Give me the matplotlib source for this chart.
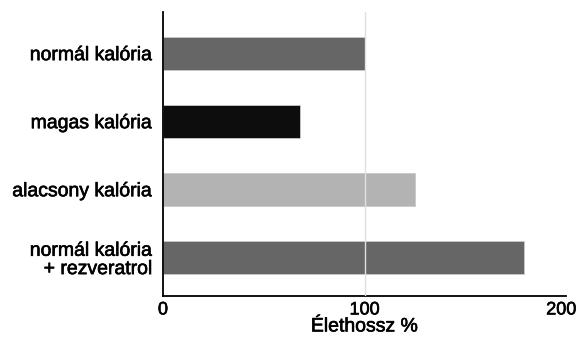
import matplotlib
matplotlib.use("Agg")
from matplotlib import pyplot as plt
from matplotlib import patheffects as pe
from matplotlib.transforms import ScaledTranslation

categories = ['normál kalória', 'magas kalória', 'alacsony kalória', 'normál kalória\n+ rezveratrol']
lifespan = [100, 68, 125, 179]
bar_colors = ['#666666', '#0d0d0d', '#b3b3b3', '#666666']
x_ticks = [0, 100, 200]

plt.rcParams['font.family'] = ['Liberation Sans', 'DejaVu Sans']
heavy = [pe.withStroke(linewidth=0.45, foreground='black')]

fig = plt.figure(figsize=(5.77, 3.37), dpi=100)
ax = fig.add_axes([0.2825, 0.122, 0.699, 0.842])

ypos = list(range(len(categories)))
ax.barh(ypos, lifespan, height=0.48, color=bar_colors, edgecolor='#c8c8c8', linewidth=0.6, zorder=2)

# single gridline at 100, drawn over the bars
ax.axvline(100, color='#e0e0e0', linewidth=1.0, zorder=3)

ax.set_xlim(0, 200)
ax.set_ylim(3.56, -0.61)
ax.set_yticks(ypos)
ax.set_yticklabels(categories, fontsize=14, ha='right', linespacing=1.1)
ax.set_xticks(x_ticks)
ax.tick_params(axis='x', length=0, labelsize=13, pad=4)
ax.tick_params(axis='y', length=0, pad=7)
ax.set_xlabel('Élethossz %', fontsize=14, labelpad=0)

for lbl in ax.get_yticklabels() + ax.get_xticklabels() + [ax.xaxis.label]:
    lbl.set_path_effects(heavy)

# keep "200" inside the figure edge
last = ax.get_xticklabels()[-1]
last.set_transform(last.get_transform() + ScaledTranslation(-5 / 100, 0, fig.dpi_scale_trans))

for side in ['top', 'right']:
    ax.spines[side].set_visible(False)
for side in ['left', 'bottom']:
    ax.spines[side].set_linewidth(1.3)
    ax.spines[side].set_color('black')

fig.savefig('out.png', dpi=100)
